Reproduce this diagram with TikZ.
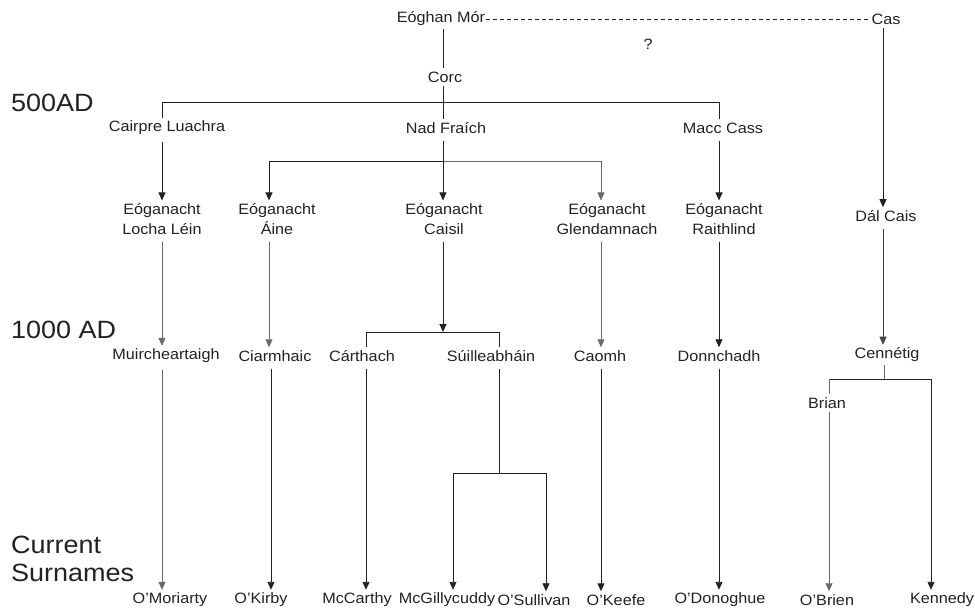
\documentclass[tikz,border=0pt]{standalone}
\usepackage{fontspec}
\setmainfont[FakeStretch=1.08]{Liberation Sans}
\usetikzlibrary{arrows.meta}
\definecolor{ink}{HTML}{222222}
\definecolor{soft}{HTML}{6A6A6A}
\begin{document}
\begin{tikzpicture}[x=1pt,y=-1pt,
  nm/.style={font=\fontsize{15}{19.5}\selectfont, text=ink, inner xsep=1pt, inner ysep=3pt, align=center},
  era/.style={font=\fontsize{25}{28}\selectfont, text=ink, inner sep=0pt, anchor=west, align=left},
  ln/.style={draw=ink, line width=0.9pt},
  lt/.style={draw=soft, line width=0.65pt},
  tip/.style={-{Triangle[length=8pt,width=7pt]}},
  arr/.style={ln, tip},
  arrt/.style={lt, tip},
  gapstart/.style={shorten <=4pt},
  dash line/.style={draw=ink, line width=0.7pt, dash pattern=on 4pt off 3pt}]
\useasboundingbox (0,0) rectangle (975,608);
\fill[white] (0,0) rectangle (975,608);
% column coordinates
\coordinate (c1) at (162,0);
\coordinate (c2) at (269,0);
\coordinate (c2b) at (271,0);
\coordinate (c3) at (443,0);
\coordinate (c3a) at (366,0);
\coordinate (c3b) at (499,0);
\coordinate (c3b1) at (453,0);
\coordinate (c3b2) at (546,0);
\coordinate (c4) at (601,0);
\coordinate (c5) at (719,0);
\coordinate (c6) at (883,0);
\coordinate (c6a) at (829,0);
\coordinate (c6b) at (931,0);
% era labels
\node[era] (e500) at (11,103) {500AD};
\node[era] (e1000) at (11,330) {1000 AD};
\node[era] (ecur) at (11,559) {Current\\Surnames};
% top
\node[nm] (em) at (441,19) {Eóghan Mór};
\node[nm] (cas) at (886,19) {Cas};
\node[nm] (q) at (648,44) {?};
\node[nm] (corc) at (445,77) {Corc};
% level 1
\node[nm] (cl) at (167,128) {Cairpre Luachra};
\node[nm] (nf) at (446,128) {Nad Fraích};
\node[nm] (mc) at (723,128) {Macc Cass};
% level 2
\node[nm] (ll) at (162,219) {Eóganacht\\Locha Léin};
\node[nm] (ai) at (277,219) {Eóganacht\\Áine};
\node[nm] (ca) at (444,219) {Eóganacht\\Caisil};
\node[nm] (gl) at (607,219) {Eóganacht\\Glendamnach};
\node[nm] (ra) at (724,219) {Eóganacht\\Raithlind};
\node[nm] (dc) at (886,216) {Dál Cais};
% level 3
\node[nm] (mu) at (166,356) {Muircheartaigh};
\node[nm] (ci) at (275,356) {Ciarmhaic};
\node[nm] (cr) at (362,356) {Cárthach};
\node[nm] (su) at (491,356) {Súilleabháin};
\node[nm] (co) at (600,356) {Caomh};
\node[nm] (do) at (719,356) {Donnchadh};
\node[nm] (ce) at (887,355) {Cennétig};
\node[nm] (br) at (827,403) {Brian};
% surnames
\node[nm] (om) at (170,600) {O’Moriarty};
\node[nm] (ok) at (261,600) {O’Kirby};
\node[nm] (mcc) at (357,600) {McCarthy};
\node[nm] (mg) at (447,600) {McGillycuddy};
\node[nm] (os) at (534,600) {O’Sullivan};
\node[nm] (oke) at (616,600) {O’Keefe};
\node[nm] (od) at (720,600) {O’Donoghue};
\node[nm] (ob) at (827,600) {O’Brien};
\node[nm] (ke) at (942,600) {Kennedy};
% bars
\coordinate (b1) at (443,102);
\coordinate (b2) at (443,161);
\coordinate (b3) at (443,332);
\coordinate (b4) at (884,379);
\coordinate (b5) at (499,473);
% connectors: top
\draw[dash line] (em.east) -- (cas.west);
\draw[ln] (em.south -| c3) -- (corc.north -| c3);
\draw[ln] (corc.south -| c3) -- (nf.north -| c3);
\draw[ln] (b1 -| c1) -- (b1 -| c5);
\draw[ln] (b1 -| c1) -- (cl.north -| c1);
\draw[ln] (b1 -| c5) -- (mc.north -| c5);
\draw[arr] (cas.south -| c6) -- (dc.north -| c6);
% level1 -> level2
\draw[arr,gapstart] (cl.south -| c1) -- (ll.north -| c1);
\draw[ln,gapstart] (nf.south -| c3) -- (b2);
\draw[ln] (b2 -| c2) -- (b2);
\draw[lt] (b2) -- (b2 -| c4);
\draw[arr] (b2 -| c2) -- (ai.north -| c2);
\draw[arr] (b2) -- (ca.north -| c3);
\draw[arrt] (b2 -| c4) -- (gl.north -| c4);
\draw[arr,gapstart] (mc.south -| c5) -- (ra.north -| c5);
% level2 -> level3
\draw[arrt,gapstart] (ll.south -| c1) -- (mu.north -| c1);
\draw[arrt,gapstart] (ai.south -| c2) -- (ci.north -| c2);
\draw[arr,gapstart] (ca.south -| c3) -- (b3);
\draw[ln] (b3 -| c3a) -- (b3 -| c3b);
\draw[ln] (b3 -| c3a) -- (cr.north -| c3a);
\draw[ln] (b3 -| c3b) -- (su.north -| c3b);
\draw[arrt,gapstart] (gl.south -| c4) -- (co.north -| c4);
\draw[arr,gapstart] (ra.south -| c5) -- (do.north -| c5);
\draw[arr,draw=ink!85,gapstart] (dc.south -| c6) -- (ce.north -| c6);
% level3 -> surnames
\draw[arrt,gapstart] (mu.south -| c1) -- (om.north -| c1);
\draw[arr,gapstart] (ci.south -| c2b) -- (ok.north -| c2b);
\draw[arr,gapstart] (cr.south -| c3a) -- (mcc.north -| c3a);
\draw[ln,gapstart] (su.south -| c3b) -- (b5);
\draw[ln] (b5 -| c3b1) -- (b5 -| c3b2);
\draw[arr] (b5 -| c3b1) -- (mg.north -| c3b1);
\draw[arr] (b5 -| c3b2) -- (os.north -| c3b2);
\draw[arr,gapstart] (co.south -| c4) -- (oke.north -| c4);
\draw[arr,gapstart] (do.south -| c5) -- (od.north -| c5);
\draw[lt] (ce.south -| b4) -- (b4);
\draw[ln] (b4 -| c6a) -- (b4 -| c6b);
\draw[lt] (b4 -| c6a) -- (br.north -| c6a);
\draw[arrt] (br.south -| c6a) -- (ob.north -| c6a);
\draw[arr] (b4 -| c6b) -- (ke.north -| c6b);
\end{tikzpicture}
\end{document}
